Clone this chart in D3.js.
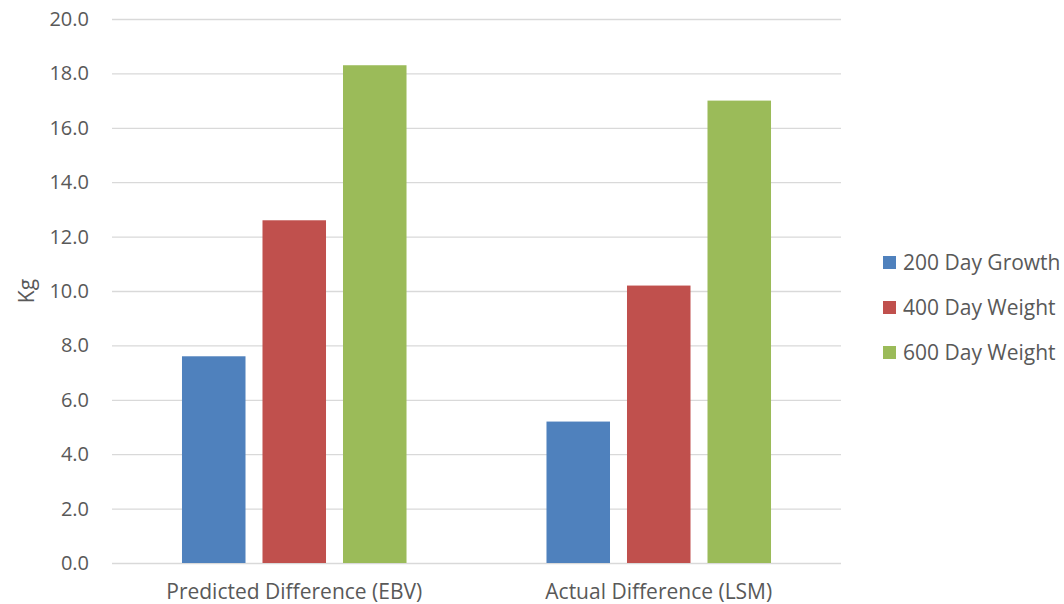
<!DOCTYPE html>
<html>
<head>
<meta charset="utf-8">
<script src="https://cdn.jsdelivr.net/npm/d3@7"></script>
<style>
  html, body { margin: 0; padding: 0; background: #fff; }
  svg { display: block; font-family: "Open Sans", sans-serif; }
</style>
</head>
<body>
<svg id="chart" width="1064" height="604"></svg>
<script>
const categories = ["Predicted Difference (EBV)", "Actual Difference (LSM)"];
const seriesNames = ["200 Day Growth", "400 Day Weight", "600 Day Weight"];
const seriesColors = ["#4f81bd", "#c0504d", "#9bbb59"];
const growth200 = [7.6, 5.2];
const weight400 = [12.6, 10.2];
const weight600 = [18.3, 17.0];
const yTicks = [0, 2, 4, 6, 8, 10, 12, 14, 16, 18, 20];
const yTitle = "Kg";

const seriesValues = [growth200, weight400, weight600];
const data = categories.map((c, i) => ({
  category: c,
  values: seriesNames.map((s, j) => ({ series: s, value: seriesValues[j][i], color: seriesColors[j] }))
}));

const svg = d3.select("#chart");
const plotLeft = 112, plotRight = 841, plotTop = 19, plotBottom = 563;

const x0 = d3.scaleBand().domain(categories).range([plotLeft, plotRight]).padding(0);
const bw = x0.bandwidth();
const x1 = d3.scaleBand().domain(seriesNames).range([bw * 0.192, bw * 0.808]).paddingInner(0.211).paddingOuter(0);
const y = d3.scaleLinear().domain([0, 20]).range([plotBottom, plotTop]);

// gridlines
const yAxis = d3.axisLeft(y).tickValues(yTicks).tickSize(-(plotRight - plotLeft)).tickFormat(d3.format(".1f")).tickPadding(23);
const gy = svg.append("g").attr("transform", `translate(${plotLeft},0)`).call(yAxis);
gy.select(".domain").remove();
gy.selectAll(".tick line").attr("stroke", "#d9d9d9").attr("stroke-width", 1.3);
gy.selectAll(".tick text").attr("fill", "#595959").style("font-size", "20px").style("font-family", "Open Sans, sans-serif");

// bars
const groups = svg.append("g").selectAll("g").data(data).join("g")
  .attr("transform", d => `translate(${x0(d.category)},0)`);
groups.selectAll("rect").data(d => d.values).join("rect")
  .attr("x", d => x1(d.series))
  .attr("width", x1.bandwidth())
  .attr("y", d => y(d.value))
  .attr("height", d => y(0) - y(d.value))
  .attr("fill", d => d.color);

// x axis labels
const xAxis = d3.axisBottom(x0).tickSize(0).tickPadding(21);
const gx = svg.append("g").attr("transform", `translate(0,${plotBottom})`).call(xAxis);
gx.select(".domain").remove();
gx.selectAll(".tick text").attr("fill", "#595959").style("font-size", "21px").style("font-family", "Open Sans, sans-serif");

// y title
svg.append("text")
  .attr("transform", `translate(34,${(plotTop + plotBottom) / 2}) rotate(-90)`)
  .attr("text-anchor", "middle")
  .attr("fill", "#595959")
  .style("font-size", "21px")
  .text(yTitle);

// legend
const legend = svg.append("g").attr("transform", "translate(883,256)");
const items = legend.selectAll("g").data(seriesNames).join("g")
  .attr("transform", (d, i) => `translate(0,${i * 45})`);
items.append("rect").attr("width", 13).attr("height", 13).attr("fill", (d, i) => seriesColors[i]);
items.append("text").attr("x", 20).attr("y", 6.5).attr("dy", "0.36em")
  .attr("fill", "#595959").style("font-size", "21px").text(d => d);
</script>
</body>
</html>
